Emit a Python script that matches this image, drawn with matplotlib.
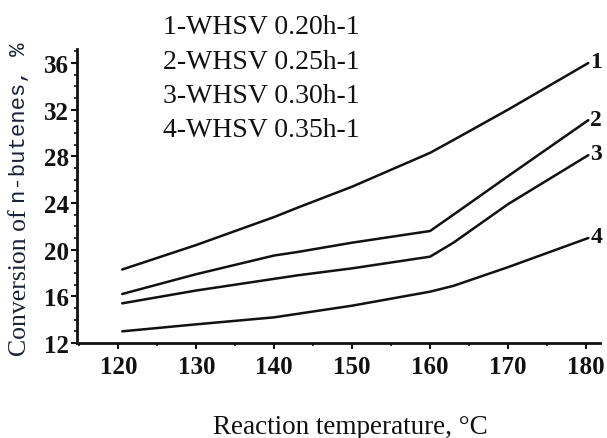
import matplotlib
matplotlib.use("Agg")
import matplotlib.pyplot as plt
from matplotlib.ticker import MultipleLocator

# Data
temperature = [120.5, 130, 140, 143, 150, 160, 163, 170, 180.3]
whsv_020 = [18.3, 20.4, 22.8, 23.6, 25.4, 28.3, 29.4, 32.0, 36.0]
whsv_025 = [16.2, 17.9, 19.5, 19.8, 20.6, 21.6, 23.0, 26.3, 31.1]
whsv_030 = [15.4, 16.5, 17.5, 17.8, 18.4, 19.4, 20.6, 23.9, 28.1]
whsv_035 = [13.0, 13.6, 14.2, 14.5, 15.2, 16.4, 16.9, 18.5, 21.0]
series = [whsv_020, whsv_025, whsv_030, whsv_035]
curve_labels = ["1", "2", "3", "4"]
legend_lines = ["1-WHSV 0.20h-1", "2-WHSV 0.25h-1", "3-WHSV 0.30h-1", "4-WHSV 0.35h-1"]
x_ticks = [120, 130, 140, 150, 160, 170, 180]
y_ticks = [12, 16, 20, 24, 28, 32, 36]

serif = "Liberation Serif"
ink = "#111111"

fig = plt.figure(figsize=(6.07, 4.39), dpi=100)
ax = fig.add_axes([77/607, 1-344/439, (600-77)/607, (344-50)/439])

for ys, lab in zip(series, curve_labels):
    ax.plot(temperature, ys, color=ink, lw=1.8, solid_capstyle="round")
    ax.text(temperature[-1] + 1.0, ys[-1] + 0.1, lab, fontfamily=serif, fontweight="bold",
            fontsize=17, ha="center", va="center", color=ink, clip_on=False)

ax.set_xlim(114.7, 181.8)
ax.set_ylim(12, 37.2)
ax.set_xticks(x_ticks)
ax.set_yticks(y_ticks)
ax.xaxis.set_minor_locator(MultipleLocator(5))
ax.yaxis.set_minor_locator(MultipleLocator(1))
for s in ["top", "right"]:
    ax.spines[s].set_visible(False)
for s in ["left", "bottom"]:
    ax.spines[s].set_linewidth(2.0)
    ax.spines[s].set_color(ink)
ax.tick_params(axis="both", which="major", direction="out", length=4, width=1.5, color=ink, pad=2)
ax.tick_params(axis="both", which="minor", direction="out", length=2.5, width=1.2, color=ink)
for lbl in ax.get_xticklabels() + ax.get_yticklabels():
    lbl.set_fontfamily(serif)
    lbl.set_fontweight("bold")
    lbl.set_fontsize(18)
    lbl.set_color(ink)
ax.tick_params(axis="x", pad=5)

# legend text block
for i, t in enumerate(legend_lines):
    fig.text(163/607, 1 - (28 + 34.3*i)/439, t, fontfamily=serif, fontsize=20,
             ha="left", va="center", color=ink)

# axis labels
fig.text(350/607, 1 - 428/439, "Reaction temperature, °C", fontfamily=serif, fontsize=19.5,
         ha="center", va="center", color=ink)
t1 = fig.text(20/607, 1 - 356/439, "Conversion of ", fontfamily=serif, fontsize=18.5,
              rotation=90, ha="center", va="bottom", color="#1c2236")
ax.annotate("n-butenes, %", xy=(0.5, 1.0), xycoords=t1, xytext=(0, 0),
            textcoords="offset points", fontfamily="Liberation Mono", fontsize=16,
            rotation=90, ha="center", va="bottom", color="#1c2236", annotation_clip=False)

fig.savefig("out.png", dpi=100)
